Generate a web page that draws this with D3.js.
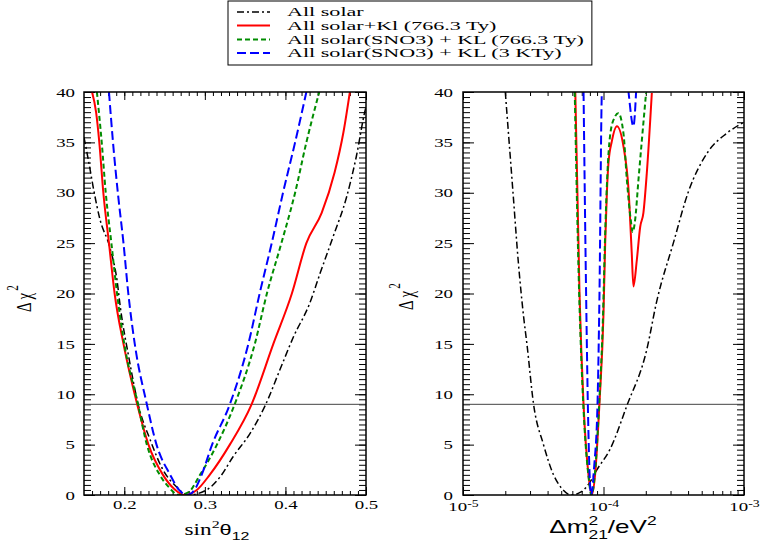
<!DOCTYPE html>
<html>
<head>
<meta charset="utf-8">
<script src="https://cdn.jsdelivr.net/npm/d3@7"></script>
<style>
  body { margin: 0; background: #fff; }
  text { fill: #000; }
</style>
</head>
<body>
<svg id="chart" width="763" height="545"></svg>
<script>
// horizontal stretch of every glyph (the original figure is widened)
const SX = 1.45;
const SX_LEGEND = 1.7;

// ---- data ----
const legendLabels = [
    'All solar',
    'All solar+Kl (766.3 Ty)',
    'All solar(SNO3) + KL (766.3 Ty)',
    'All solar(SNO3) + KL (3 KTy)'
];

const chiTicks = [0, 5, 10, 15, 20, 25, 30, 35, 40];
const sinTicks = [0.2, 0.3, 0.4, 0.5];
const dmTicks = [1e-5, 1e-4, 1e-3];

// left panel: [sin^2 theta12, delta chi^2]
const sinAllSolar = [[0.150, 35.5], [0.156, 33.0], [0.162, 30.3], [0.170, 27.3], [0.182, 24.6], [0.191, 21.3],
    [0.195, 18.7], [0.206, 13.5], [0.2175, 8.9], [0.232, 5.5], [0.248, 2.5], [0.265, 0.8], [0.279, 0],
    [0.302, 0.5], [0.319, 1.8], [0.335, 3.8], [0.356, 6.1], [0.375, 8.9], [0.393, 12.4], [0.410, 15.7],
    [0.430, 19.0], [0.443, 22.0], [0.459, 25.6], [0.476, 29.6], [0.488, 33.6], [0.499, 38.2], [0.500, 38.5]];
const sinSolarKl = [[0.160, 40], [0.165, 38], [0.169, 35], [0.174, 30], [0.181, 25], [0.188, 20], [0.199, 15],
    [0.207, 12], [0.216, 9], [0.230, 5], [0.248, 2], [0.262, 0.6], [0.275, 0], [0.290, 0.5], [0.306, 2],
    [0.331, 5], [0.358, 9], [0.385, 15], [0.408, 20], [0.426, 25], [0.445, 28], [0.461, 32], [0.472, 36],
    [0.480, 40]];
const sinSnoKl = [[0.166, 40], [0.172, 35], [0.177, 30], [0.184, 25], [0.191, 20], [0.200, 15], [0.217, 9],
    [0.228, 5], [0.244, 2], [0.255, 0.8], [0.268, 0], [0.280, 0.3], [0.294, 2], [0.315, 5], [0.337, 9],
    [0.362, 15], [0.377, 20], [0.395, 25], [0.412, 30], [0.426, 35], [0.442, 40]];
const sinSnoKl3 = [[0.181, 40], [0.186, 35], [0.192, 30], [0.199, 25], [0.205, 20], [0.213, 15], [0.228, 9],
    [0.240, 5], [0.257, 2], [0.268, 0.5], [0.278, 0], [0.287, 0.5], [0.296, 2], [0.309, 5], [0.331, 9],
    [0.354, 15], [0.368, 20], [0.383, 25], [0.397, 30], [0.412, 35], [0.426, 40]];

// right panel: [delta m^2_21 / eV^2, delta chi^2]
const dmAllSolar = [[2.00e-5, 40], [2.27e-5, 30], [2.48e-5, 23], [2.70e-5, 17.7], [2.85e-5, 15], [3.18e-5, 9],
    [3.74e-5, 5], [4.41e-5, 2], [5.01e-5, 0.7], [5.89e-5, 0], [6.92e-5, 0.3], [7.94e-5, 1.2], [8.97e-5, 2.5],
    [1.11e-4, 4.5], [1.47e-4, 8.9], [2.03e-4, 14.4], [2.39e-4, 19.2], [3.14e-4, 25], [4.02e-4, 30.1],
    [5.57e-4, 34.1], [7.53e-4, 35.9], [1.00e-3, 37]];
const dmSolarKl = [[6.30e-5, 40], [6.75e-5, 20], [7.21e-5, 9], [7.82e-5, 2], [8.26e-5, 0], [8.71e-5, 2],
    [9.35e-5, 9], [1.00e-4, 18], [1.028e-4, 25], [1.057e-4, 30], [1.084e-4, 32.9], [1.146e-4, 35.1],
    [1.245e-4, 36.6], [1.387e-4, 34.6], [1.507e-4, 30.3], [1.589e-4, 24], [1.633e-4, 20.7], [1.726e-4, 23.3],
    [1.824e-4, 26.6], [1.923e-4, 28], [2.032e-4, 31.9], [2.208e-4, 39.9]];
const dmSnoKl = [[6.24e-5, 40], [6.71e-5, 20], [7.18e-5, 9], [7.80e-5, 2], [8.22e-5, 0], [8.67e-5, 2],
    [9.31e-5, 9], [9.93e-5, 18], [1.023e-4, 25], [1.052e-4, 30], [1.076e-4, 33], [1.122e-4, 36],
    [1.202e-4, 37.5], [1.276e-4, 37.9], [1.387e-4, 35.9], [1.466e-4, 31.3], [1.563e-4, 27.3],
    [1.614e-4, 26.1], [1.679e-4, 27.3], [1.774e-4, 31.3], [1.875e-4, 35.2], [2.009e-4, 39.9]];
const dmSnoKl3 = [[7.21e-5, 40], [7.53e-5, 19.4], [7.74e-5, 8.9], [8.04e-5, 0.8], [8.17e-5, 0], [8.59e-5, 2.9],
    [9.06e-5, 8.9], [9.35e-5, 19.4], [9.73e-5, 40], [1.20e-4, 60], [1.507e-4, 40], [1.633e-4, 36.6],
    [1.706e-4, 40]];

// line styles, same order as the legend
const styles = [
    { color: '#000000', dash: '7,3,2,3', width: 1.5 },
    { color: '#ff0000', dash: null, width: 2 },
    { color: '#008c00', dash: '5,3', width: 2 },
    { color: '#0000ff', dash: '9,4', width: 2 }
];

const svg = d3.select('#chart');
svg.append('rect').attr('width', 763).attr('height', 545).attr('fill', '#fff');

// stretch the tick texts of an axis group horizontally
function stretchTicks(axisG, family, size) {
    axisG.attr('font-family', family).attr('font-size', size);
    axisG.selectAll('.tick text').each(function () {
        let t = d3.select(this);
        let x = +t.attr('x') || 0;
        t.attr('x', x / SX).attr('transform', 'scale(' + SX + ',1)').attr('fill', '#000');
    });
}

function drawPanel(cfg) {
    let x = cfg.x, y = cfg.y;
    let xl = x.range()[0], xr = x.range()[1];
    let yb = y.range()[0], yt = y.range()[1];

    let g = svg.append('g').attr('class', 'panel_' + cfg.name);

    svg.append('clipPath').attr('id', 'clip_' + cfg.name)
        .append('rect')
        .attr('x', xl).attr('y', yt)
        .attr('width', xr - xl).attr('height', yb - yt);

    // x axes, bottom + top, major + minor, ticks inward
    let bottom = g.append('g').attr('transform', 'translate(0,' + yb + ')')
        .call(d3.axisBottom(x).tickValues(cfg.xMajor).tickSize(-8).tickPadding(cfg.xPad).tickFormat(cfg.xFormat));
    g.append('g').attr('transform', 'translate(0,' + yb + ')')
        .call(d3.axisBottom(x).tickValues(cfg.xMinor).tickSize(-4).tickFormat(''));
    g.append('g').attr('transform', 'translate(0,' + yt + ')')
        .call(d3.axisTop(x).tickValues(cfg.xMajor).tickSize(-8).tickFormat(''));
    g.append('g').attr('transform', 'translate(0,' + yt + ')')
        .call(d3.axisTop(x).tickValues(cfg.xMinor).tickSize(-4).tickFormat(''));

    // y axes, left + right
    let left = g.append('g').attr('transform', 'translate(' + xl + ',0)')
        .call(d3.axisLeft(y).tickValues(chiTicks).tickSize(-11).tickPadding(cfg.yPad));
    g.append('g').attr('transform', 'translate(' + xl + ',0)')
        .call(d3.axisLeft(y).tickValues(d3.range(0, 40.01, 0.5)).tickSize(-7).tickFormat(''));
    g.append('g').attr('transform', 'translate(' + xr + ',0)')
        .call(d3.axisRight(y).tickValues(chiTicks).tickSize(-11).tickFormat(''));
    g.append('g').attr('transform', 'translate(' + xr + ',0)')
        .call(d3.axisRight(y).tickValues(d3.range(0, 40.01, 0.5)).tickSize(-7).tickFormat(''));

    g.selectAll('.domain').remove();
    g.selectAll('.tick line').attr('stroke', '#000').attr('stroke-width', 1);

    stretchTicks(left, 'Liberation Serif', 13);
    stretchTicks(bottom, 'Liberation Serif', 13);
    if (cfg.logLabels) {
        // 10 with exponent as superscript
        bottom.selectAll('.tick text').each(function (d) {
            let t = d3.select(this).text(null);
            t.append('tspan').text('10');
            t.append('tspan').attr('dy', '-0.45em').attr('font-size', 9.5)
                .text(Math.round(Math.log10(d)));
        });
    }

    // 3 sigma reference line
    g.append('line')
        .attr('x1', xl).attr('x2', xr)
        .attr('y1', y(9)).attr('y2', y(9))
        .attr('stroke', '#444').attr('stroke-width', 1);

    // curves
    let line = d3.line()
        .x(d => x(d[0]))
        .y(d => y(d[1]))
        .curve(d3.curveMonotoneX);

    let curves = g.append('g').attr('clip-path', 'url(#clip_' + cfg.name + ')');
    cfg.series.forEach((s, i) => {
        curves.append('path')
            .attr('d', line(s))
            .attr('fill', 'none')
            .attr('stroke', styles[i].color)
            .attr('stroke-width', styles[i].width)
            .attr('stroke-dasharray', styles[i].dash);
    });

    // frame
    g.append('rect')
        .attr('x', xl).attr('y', yt)
        .attr('width', xr - xl).attr('height', yb - yt)
        .attr('fill', 'none').attr('stroke', '#000').attr('stroke-width', 1.5);

    // y title, rotated ("Delta chi^2")
    let yt2 = g.append('text')
        .attr('transform', 'translate(' + cfg.yTitle[0] + ',' + cfg.yTitle[1] + ') scale(' + SX + ',1) rotate(-90)')
        .attr('font-family', 'Liberation Serif')
        .attr('font-size', 15);
    yt2.append('tspan').text('\u0394 \u03c7');
    yt2.append('tspan').attr('dx', 2).attr('dy', -9).attr('font-size', 11).text('2');

    return g;
}

let sinX = d3.scaleLinear().domain([0.15, 0.5]).range([84, 366]);
let chiY = d3.scaleLinear().domain([0, 40]).range([495, 92]);
let dmX = d3.scaleLog().domain([1e-5, 1e-3]).range([463, 744]);

let dmMinor = [];
[1e-5, 1e-4].forEach(dec => [2, 3, 4, 5, 6, 7, 8, 9].forEach(k => dmMinor.push(k * dec)));

drawPanel({
    name: 'sin', x: sinX, y: chiY,
    xMajor: sinTicks, xMinor: d3.range(0.16, 0.5, 0.01),
    xFormat: d3.format('.1f'), xPad: 5, yPad: 9,
    yTitle: [31, 312],
    series: [sinAllSolar, sinSolarKl, sinSnoKl, sinSnoKl3]
});

drawPanel({
    name: 'dm', x: dmX, y: chiY,
    xMajor: dmTicks, xMinor: dmMinor,
    xFormat: () => '', xPad: 7, yPad: 10, logLabels: true,
    yTitle: [413, 310],
    series: [dmAllSolar, dmSolarKl, dmSnoKl, dmSnoKl3]
});

// x titles
let xt1 = svg.append('text')
    .attr('transform', 'translate(217,535) scale(' + SX + ',1)')
    .attr('text-anchor', 'middle')
    .attr('font-family', 'Liberation Serif').attr('font-size', 16);
xt1.append('tspan').text('sin');
xt1.append('tspan').attr('dy', -7).attr('font-size', 11).text('2');
xt1.append('tspan').attr('dy', 7).attr('font-family', 'Liberation Sans').attr('font-size', 15).text('\u03b8');
xt1.append('tspan').attr('dy', 5).attr('font-family', 'Liberation Sans').attr('font-size', 11).text('12');

let xt2 = svg.append('text')
    .attr('transform', 'translate(603,533) scale(' + SX + ',1)')
    .attr('text-anchor', 'middle')
    .attr('font-family', 'Liberation Sans').attr('font-size', 18);
xt2.append('tspan').text('\u0394m');
xt2.append('tspan').attr('dy', -8).attr('font-size', 12).text('2');
xt2.append('tspan').attr('dx', -6.7).attr('dy', 14).attr('font-size', 12).text('21');
xt2.append('tspan').attr('dy', -6).text('/eV');
xt2.append('tspan').attr('dy', -8).attr('font-size', 12).text('2');

// legend
let legend = svg.append('g').attr('class', 'legend');
let legendBox = legend.append('rect')
    .attr('x', 228).attr('y', 1).attr('height', 64)
    .attr('fill', '#fff').attr('stroke', '#000').attr('stroke-width', 1);
let rowY = [12, 25.5, 39.5, 53];
let maxW = 0;
legendLabels.forEach((lab, i) => {
    legend.append('line')
        .attr('x1', 237).attr('x2', 270)
        .attr('y1', rowY[i]).attr('y2', rowY[i])
        .attr('stroke', styles[i].color)
        .attr('stroke-width', styles[i].width)
        .attr('stroke-dasharray', styles[i].dash);
    let t = legend.append('text')
        .attr('transform', 'translate(287,' + (rowY[i] + 4) + ') scale(' + SX_LEGEND + ',1)')
        .attr('font-family', 'Liberation Serif').attr('font-size', 13)
        .text(lab);
    maxW = Math.max(maxW, t.node().getBBox().width * SX_LEGEND);
});
legendBox.attr('width', 287 + maxW + 8 - 228);
</script>
</body>
</html>
